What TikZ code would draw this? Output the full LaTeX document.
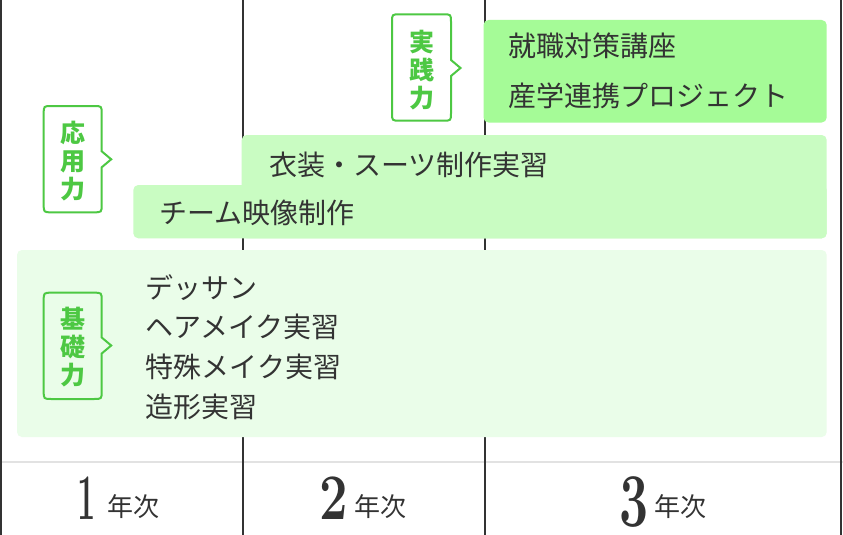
\documentclass[tikz,border=0pt]{standalone}
\usepackage{fontspec}
\newfontfamily\jp{Noto Sans CJK JP}
\definecolor{dark}{HTML}{333333}
\definecolor{boxA}{HTML}{A5FB97}
\definecolor{boxB}{HTML}{C9FCC2}
\definecolor{boxC}{HTML}{EAFDE9}
\definecolor{grn}{HTML}{4DC843}
\definecolor{lgray}{HTML}{E2E2E2}
\begin{document}
\begin{tikzpicture}[x=1pt,y=-1pt,
  vline/.style={draw=dark, line width=2.5pt},
  hline/.style={draw=lgray, line width=2pt},
  body/.style={font=\jp\fontsize{28}{28}\selectfont, text=dark, anchor=west, inner sep=0pt, text height=24.6pt, text depth=3.4pt},
  bub/.style={draw=grn, line width=2pt, line join=miter},
  bubtext/.style={font=\jp\bfseries\fontsize{25}{28}\selectfont, text=grn, align=center, inner sep=0pt},
  yr/.style={font=\jp\fontsize{26}{26}\selectfont, text=dark, anchor=base west, inner sep=0pt},
  num/.style={font=\bfseries\fontsize{65}{65}\selectfont, text=dark, anchor=base, inner sep=0pt},
  boxr/.style={rounded corners=5pt}]
\useasboundingbox (0,0) rectangle (843,535);
\fill[white] (0,0) rectangle (843,535);
% grid
\draw[hline] (0,462) -- (843,462);
\draw[vline] (1.2,0) -- (1.2,535);
\draw[vline] (243,0) -- (243,535);
\draw[vline] (485,0) -- (485,535);
\draw[vline] (841,0) -- (841,535);
% boxes
\fill[boxA, boxr] (483.5,20) rectangle (826.7,122.5);
\fill[boxB, boxr] (241.7,135) rectangle (826.7,238.3);
\fill[boxB, boxr] (133.3,185) rectangle (826.7,238.3);
\fill[boxC, boxr] (17,250) rectangle (826.7,437);
% bubbles
\draw[bub] (400,14.3) -- (443,14.3) .. controls (451,14.3) .. (451,22.3) -- (451,60) -- (460.5,68) -- (451,76) -- (451,112.7) .. controls (451,120.7) .. (443,120.7) -- (400,120.7) .. controls (392,120.7) .. (392,112.7) -- (392,22.3) .. controls (392,14.3) .. (400,14.3) -- cycle;
\draw[bub] (51.7,106) -- (93.7,106) .. controls (101.7,106) .. (101.7,114) -- (101.7,151.3) -- (111.2,159.3) -- (101.7,167.3) -- (101.7,204.3) .. controls (101.7,212.3) .. (93.7,212.3) -- (51.7,212.3) .. controls (43.7,212.3) .. (43.7,204.3) -- (43.7,114) .. controls (43.7,106) .. (51.7,106) -- cycle;
\draw[bub] (51.7,292.7) -- (93.7,292.7) .. controls (101.7,292.7) .. (101.7,300.7) -- (101.7,337.5) -- (111.2,345.5) -- (101.7,353.5) -- (101.7,391) .. controls (101.7,399) .. (93.7,399) -- (51.7,399) .. controls (43.7,399) .. (43.7,391) -- (43.7,300.7) .. controls (43.7,292.7) .. (51.7,292.7) -- cycle;
\node[bubtext] (bt1) at (421.5,70) {実\\践\\力};
\node[bubtext] (bt2) at (72.7,161.5) {応\\用\\力};
\node[bubtext] (bt3) at (72.7,347.5) {基\\礎\\力};
% texts
\node[body] (t1) at (508,46) {就職対策講座};
\node[body] (t2) at (508,96) {産学連携プロジェクト};
\node[body] (m1) at (269,165) {衣装・スーツ制作実習};
\node[body] (m2) at (159,213.3) {チーム映像制作};
\node[body] (b1) at (145.7,288.3) {デッサン};
\node[body] (b2) at (145.7,327.3) {ヘアメイク実習};
\node[body] (b3) at (145.7,366.7) {特殊メイク実習};
\node[body] (b4) at (145.7,406.7) {造形実習};
% years
\node[num] (n1) at (87,519) {\scalebox{0.5}[1]{1}};
\node[yr] (y1) at (107,516.5) {年次};
\node[num] (n2) at (333.5,519) {\scalebox{0.78}[1]{2}};
\node[yr] (y2) at (354,516.5) {年次};
\node[num, font=\bfseries\fontsize{76}{76}\selectfont] (n3) at (634,526) {\scalebox{0.68}[1]{3}};
\node[yr] (y3) at (654.5,516.5) {年次};
\end{tikzpicture}
\end{document}
